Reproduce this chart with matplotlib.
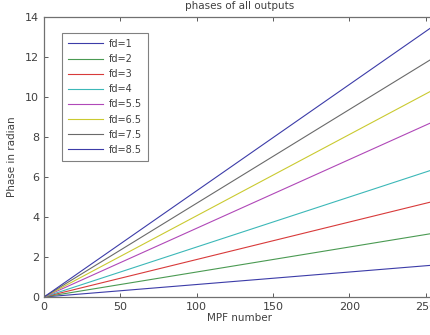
import matplotlib
matplotlib.use('Agg')
import matplotlib.pyplot as plt

# MPF index range and phase reached at the last output, one per fd value
mpf_range = [0, 256]
fd_labels = ['fd=1', 'fd=2', 'fd=3', 'fd=4', 'fd=5.5', 'fd=6.5', 'fd=7.5', 'fd=8.5']
phase_end = [1.6, 3.2, 4.8, 6.4, 8.8, 10.4, 12.0, 13.6]

# old MATLAB colour order, slightly washed out like the scan
colors = ['#3c3ca8', '#4a9a52', '#d83a3a', '#3cb8b8', '#b048b8',
          '#caca30', '#6a6a6a', '#3c3ca8']

plt.rcParams['font.family'] = ['DejaVu Sans']

fig = plt.figure(figsize=(4.31, 3.35), dpi=100)
ax = fig.add_axes([0.102, 0.1134, 0.907, 0.8358])

for lab, pe, c in zip(fd_labels, phase_end, colors):
    ax.plot(mpf_range, [0, pe], color=c, linewidth=0.8, label=lab)

ax.set_xlim(0, 256)
ax.set_ylim(0, 14)
ax.set_xticks([0, 50, 100, 150, 200, 250])
ax.set_yticks([0, 2, 4, 6, 8, 10, 12, 14])
ax.tick_params(direction='in', top=True, right=True, labelsize=8,
               colors='#404040', length=3, width=0.6)
for s in ax.spines.values():
    s.set_color('#707070')
    s.set_linewidth(0.9)

ax.set_title('phases of all outputs', fontsize=7.5, color='#404040', pad=6)
ax.set_xlabel('MPF number', fontsize=7.5, color='#404040', labelpad=1)
ax.set_ylabel('Phase in radian', fontsize=7.5, color='#404040', labelpad=6)

leg = ax.legend(loc='upper left', bbox_to_anchor=(0.046, 0.943), fontsize=7,
                frameon=True, fancybox=False, handlelength=3.6,
                handletextpad=0.6, labelspacing=0.53, borderpad=0.6,
                borderaxespad=0)
leg.get_frame().set_edgecolor('#606060')
leg.get_frame().set_linewidth(0.8)
for t in leg.get_texts():
    t.set_color('#404040')

fig.savefig('out.png', dpi=100)
